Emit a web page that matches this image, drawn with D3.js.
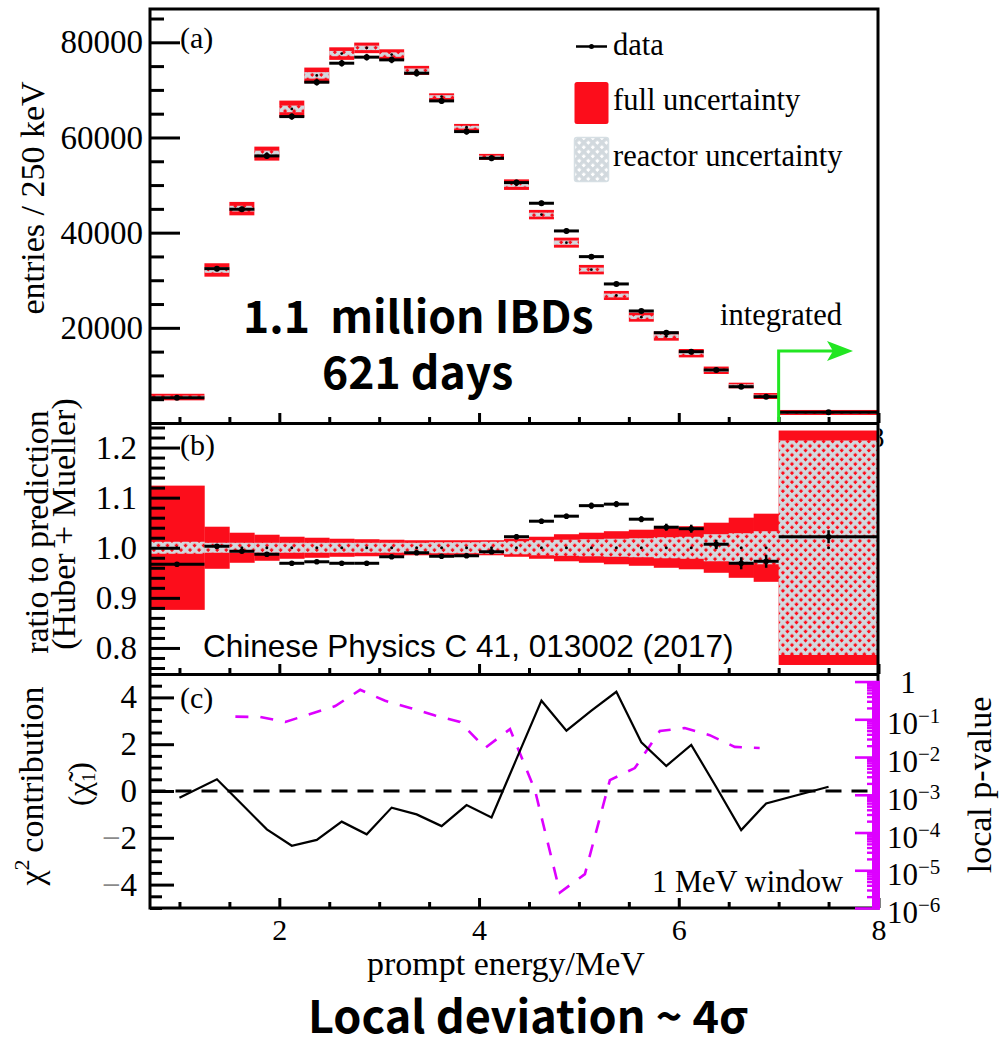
<!DOCTYPE html>
<html><head><meta charset="utf-8">
<script src="https://cdn.jsdelivr.net/npm/d3@7"></script>
<style>
html,body{margin:0;padding:0;background:#fff;}
svg{display:block;}
</style></head><body>
<svg id="chart" width="999" height="1046"></svg>
<script>
// ---------------- data ----------------
const binEdges = [0.7, 1.25, 1.5, 1.75, 2.0, 2.25, 2.5, 2.75, 3.0, 3.25, 3.5, 3.75, 4.0, 4.25, 4.5, 4.75, 5.0, 5.25, 5.5, 5.75, 6.0, 6.25, 6.5, 6.75, 7.0, 8.0];
const dataEntries = [5320, 32440, 44920, 56130, 64390, 71620, 75610, 76880, 76310, 73510, 67690, 61240, 55640, 50520, 46180, 40360, 34960, 29220, 23540, 18980, 14990, 11140, 7630, 5530, 2250];
const dataEntriesErr = [250, 500, 550, 600, 650, 700, 700, 700, 700, 700, 650, 650, 600, 600, 550, 550, 500, 450, 400, 400, 350, 300, 300, 250, 150];
const predEntries = [5450, 32160, 45050, 56610, 66010, 73050, 77630, 78830, 77420, 74100, 68590, 62160, 55920, 50090, 43790, 37900, 32230, 26800, 22240, 18250, 14670, 11080, 7880, 5670, 2210];
const fullErrEntries = [690, 1410, 1410, 1470, 1740, 1640, 1320, 1110, 1110, 950, 690, 690, 630, 1110, 990, 1050, 990, 950, 950, 950, 880, 780, 590, 630, 530];
const reactorErrEntries = [300, 600, 600, 620, 700, 680, 560, 470, 470, 400, 300, 300, 270, 470, 420, 450, 420, 400, 400, 400, 370, 330, 250, 270, 230];

const ratio = [0.967, 1.003, 0.993, 0.987, 0.969, 0.972, 0.969, 0.969, 0.982, 0.990, 0.983, 0.984, 0.992, 1.022, 1.053, 1.063, 1.084, 1.087, 1.057, 1.041, 1.038, 1.007, 0.969, 0.973, 1.022];
const ratioErr = [0.004, 0.004, 0.004, 0.004, 0.004, 0.004, 0.004, 0.004, 0.004, 0.004, 0.004, 0.004, 0.004, 0.005, 0.005, 0.005, 0.006, 0.006, 0.006, 0.007, 0.008, 0.009, 0.012, 0.013, 0.013];
const fullBand = [0.124, 0.042, 0.030, 0.026, 0.022, 0.020, 0.018, 0.017, 0.016, 0.015, 0.015, 0.015, 0.015, 0.018, 0.022, 0.027, 0.030, 0.033, 0.036, 0.040, 0.043, 0.050, 0.060, 0.068, 0.234];
const reactorBand = [0.012, 0.010, 0.010, 0.010, 0.010, 0.010, 0.010, 0.010, 0.010, 0.010, 0.011, 0.011, 0.012, 0.013, 0.015, 0.016, 0.017, 0.018, 0.019, 0.021, 0.022, 0.027, 0.029, 0.033, 0.214];

const chiEnergy = [1.0, 1.375, 1.625, 1.875, 2.125, 2.375, 2.625, 2.875, 3.125, 3.375, 3.625, 3.875, 4.125, 4.375, 4.625, 4.875, 5.125, 5.375, 5.625, 5.875, 6.125, 6.375, 6.625, 6.875, 7.5];
const chiValue = [-0.29, 0.5, -0.57, -1.64, -2.34, -2.09, -1.31, -1.85, -0.71, -1.0, -1.5, -0.6, -1.13, 1.37, 3.86, 2.58, 3.43, 4.24, 2.08, 1.07, 1.97, 0.17, -1.67, -0.53, 0.18];

const pEnergy = [1.56, 1.81, 2.06, 2.31, 2.56, 2.81, 3.06, 3.31, 3.56, 3.81, 4.06, 4.31, 4.56, 4.81, 5.06, 5.31, 5.56, 5.81, 6.06, 6.31, 6.56, 6.81];
const pValue = [0.1175, 0.115, 0.0851, 0.138, 0.224, 0.603, 0.309, 0.2, 0.126, 0.085, 0.0174, 0.055, 0.00132, 2.57e-6, 7.9e-6, 0.00245, 0.0051, 0.049, 0.0589, 0.038, 0.0186, 0.0174];

const yTicksA = [20000, 40000, 60000, 80000];
const yTicksB = [0.8, 0.9, 1.0, 1.1, 1.2];
const yTicksC = [-4, -2, 0, 2, 4];
const xTicksMajor = [2, 4, 6, 8];
const pTicksMajor = [1, 1e-1, 1e-2, 1e-3, 1e-4, 1e-5, 1e-6];
const legendLabels = ["data", "full uncertainty", "reactor uncertainty"];

// ---------------- setup ----------------
const SERIF = '"Liberation Serif","Times New Roman",serif';
const SANS = '"Liberation Sans",Arial,sans-serif';
const BOLD = '"Noto Sans CJK SC","Noto Sans",sans-serif';
const RED = "#fc0d1b", HATCH = "#d2d9de", GREEN = "#22e622", MAG = "#dd00ff";

const svg = d3.select("#chart");
const defs = svg.append("defs");
const pat = defs.append("pattern").attr("id", "hatch").attr("patternUnits", "userSpaceOnUse")
  .attr("width", 6.4).attr("height", 6.4).attr("patternTransform", "rotate(45)");
pat.append("rect").attr("width", 6.4).attr("height", 3.4).attr("fill", HATCH);
pat.append("rect").attr("width", 3.4).attr("height", 6.4).attr("fill", HATCH);
defs.append("clipPath").attr("id", "rclip").append("rect").attr("x", 879.5).attr("y", 420).attr("width", 30).attr("height", 40);

const x = d3.scaleLinear().domain([0.7, 8]).range([149.5, 878.5]);
const yA = d3.scaleLinear().domain([0, 87000]).range([423, 9]);
const yB = d3.scaleLinear().domain([0.748, 1.247]).range([674, 424]);
const yC = d3.scaleLinear().domain([-5, 5]).range([908, 674]);
const yP = d3.scaleLog().domain([1e-6, 1.585]).range([908, 674]);

const bins = d3.range(binEdges.length - 1).map(i => ({
  i, lo: binEdges[i], hi: binEdges[i + 1], mid: (binEdges[i] + binEdges[i + 1]) / 2,
  d: dataEntries[i], de: dataEntriesErr[i], p: predEntries[i], pf: fullErrEntries[i], pr: reactorErrEntries[i],
  r: ratio[i], re: ratioErr[i], bf: fullBand[i], br: reactorBand[i]
}));

// ---------------- panel (a) ----------------
const gA = svg.append("g");
gA.selectAll("rect.fa").data(bins).join("rect")
  .attr("x", d => x(d.lo)).attr("width", d => x(d.hi) - x(d.lo))
  .attr("y", d => yA(d.p + d.pf)).attr("height", d => yA(d.p - d.pf) - yA(d.p + d.pf))
  .attr("fill", RED);
gA.selectAll("rect.ra").data(bins).join("rect")
  .attr("x", d => x(d.lo)).attr("width", d => x(d.hi) - x(d.lo))
  .attr("y", d => yA(d.p + d.pr)).attr("height", d => yA(d.p - d.pr) - yA(d.p + d.pr))
  .attr("fill", "url(#hatch)");
gA.selectAll("circle.pa").data(bins).join("circle")
  .attr("cx", d => x(d.mid)).attr("cy", d => yA(d.p)).attr("r", 1.4).attr("fill", "#000");
gA.selectAll("line.h").data(bins).join("line")
  .attr("x1", d => x(d.lo)).attr("x2", d => x(d.hi)).attr("y1", d => yA(d.d)).attr("y2", d => yA(d.d))
  .attr("stroke", "#000").attr("stroke-width", 3);
gA.selectAll("line.v").data(bins).join("line")
  .attr("x1", d => x(d.mid)).attr("x2", d => x(d.mid)).attr("y1", d => yA(d.d + d.de)).attr("y2", d => yA(d.d - d.de))
  .attr("stroke", "#000").attr("stroke-width", 2);
gA.selectAll("circle.da").data(bins).join("circle")
  .attr("cx", d => x(d.mid)).attr("cy", d => yA(d.d)).attr("r", 3).attr("fill", "#000");

// ---------------- panel (b) ----------------
const gB = svg.append("g");
gB.selectAll("rect.fb").data(bins).join("rect")
  .attr("x", d => x(d.lo)).attr("width", d => x(d.hi) - x(d.lo) + 0.3)
  .attr("y", d => yB(1 + d.bf)).attr("height", d => yB(1 - d.bf) - yB(1 + d.bf))
  .attr("fill", RED);
gB.selectAll("rect.rb").data(bins).join("rect")
  .attr("x", d => x(d.lo)).attr("width", d => x(d.hi) - x(d.lo) + 0.3)
  .attr("y", d => yB(1 + d.br)).attr("height", d => yB(1 - d.br) - yB(1 + d.br))
  .attr("fill", "url(#hatch)");
gB.selectAll("circle.pb").data(bins).join("circle")
  .attr("cx", d => x(d.mid)).attr("cy", yB(1)).attr("r", 1.5).attr("fill", "#000");
gB.selectAll("line.h").data(bins).join("line")
  .attr("x1", d => x(d.lo)).attr("x2", d => x(d.hi)).attr("y1", d => yB(d.r)).attr("y2", d => yB(d.r))
  .attr("stroke", "#000").attr("stroke-width", 3);
gB.selectAll("line.v").data(bins).join("line")
  .attr("x1", d => x(d.mid)).attr("x2", d => x(d.mid)).attr("y1", d => yB(d.r + d.re)).attr("y2", d => yB(d.r - d.re))
  .attr("stroke", "#000").attr("stroke-width", 2.5);
gB.selectAll("circle.db").data(bins).join("circle")
  .attr("cx", d => x(d.mid)).attr("cy", d => yB(d.r)).attr("r", 2.8).attr("fill", "#000");

// ---------------- panel (c) ----------------
const gC = svg.append("g");
gC.append("line").attr("x1", x(0.7)).attr("x2", 872).attr("y1", yC(0)).attr("y2", yC(0))
  .attr("stroke", "#000").attr("stroke-width", 3).attr("stroke-dasharray", "16,10");
gC.append("path").datum(pEnergy.map((e, i) => [e, pValue[i]]))
  .attr("d", d3.line().x(d => x(d[0])).y(d => yP(d[1])))
  .attr("fill", "none").attr("stroke", MAG).attr("stroke-width", 2.6).attr("stroke-dasharray", "13,12");
gC.append("path").datum(chiEnergy.map((e, i) => [e, chiValue[i]]))
  .attr("d", d3.line().x(d => x(d[0])).y(d => yC(d[1])))
  .attr("fill", "none").attr("stroke", "#000").attr("stroke-width", 2.2).attr("stroke-linejoin", "miter");

// ---------------- frame ----------------
const fr = svg.append("g").attr("fill", "none").attr("stroke", "#000").attr("stroke-width", 3);
fr.append("rect").attr("x", 150).attr("y", 9).attr("width", 728).attr("height", 899);
fr.append("line").attr("x1", 150).attr("x2", 878).attr("y1", 423.5).attr("y2", 423.5);
fr.append("line").attr("x1", 150).attr("x2", 878).attr("y1", 674.5).attr("y2", 674.5);

// ---------------- axes ----------------
function styleAxis(g, size) {
  g.select(".domain").remove();
  g.selectAll("line").attr("stroke", "#000").attr("stroke-width", 3);
  g.selectAll("text").attr("font-family", SERIF).attr("font-size", size).attr("fill", "#000");
}
function leftAxis(scale, major, minorStep, majLen, minLen, pad, fmt) {
  const [a, b] = scale.domain();
  const minor = d3.range(Math.ceil(a / minorStep) * minorStep, b + 1e-9, minorStep)
    .filter(v => !major.some(m => Math.abs(m - v) < minorStep / 10));
  const g1 = svg.append("g").attr("transform", "translate(150,0)")
    .call(d3.axisLeft(scale).tickValues(minor).tickSizeInner(-minLen).tickSizeOuter(0).tickFormat(""));
  styleAxis(g1, 33);
  const g2 = svg.append("g").attr("transform", "translate(150,0)")
    .call(d3.axisLeft(scale).tickValues(major).tickSizeInner(-majLen).tickSizeOuter(0).tickPadding(pad).tickFormat(fmt));
  styleAxis(g2, 33);
  return g2;
}
leftAxis(yA, yTicksA, 5000, 30, 14, 7, d3.format("d"));
leftAxis(yB, yTicksB, 0.02, 30, 15, 13, d3.format(".1f"));
const gcy = leftAxis(yC, yTicksC, 0.5, 24, 12, 13, d => String(Math.abs(d)));
gcy.selectAll(".tick text").each(function (d) {
  if (d < 0) {
    const t = d3.select(this); const s = t.text(); t.text("");
    t.append("tspan").attr("fill", "#8a8a8a").text("\u2212");
    t.append("tspan").text(s);
  }
});

const xMinor = d3.range(1, 8, 0.5).filter(v => !xTicksMajor.includes(v));
[423, 674, 908].forEach((yy, k) => {
  const g1 = svg.append("g").attr("transform", `translate(0,${yy})`)
    .call(d3.axisBottom(x).tickValues(xMinor).tickSizeInner(-6).tickSizeOuter(0).tickFormat(""));
  styleAxis(g1, 30);
  const g2 = svg.append("g").attr("transform", `translate(0,${yy})`)
    .call(d3.axisBottom(x).tickValues(xTicksMajor).tickSizeInner(-10).tickSizeOuter(0).tickPadding(10.5)
      .tickFormat(k === 2 ? d3.format("d") : ""));
  styleAxis(g2, 30);
});

// right log axis (p-value)
svg.append("rect").attr("x", 872).attr("y", yP(1)).attr("width", 8).attr("height", yP(1e-6) - yP(1)).attr("fill", MAG);
const pMinor = yP.ticks().filter(v => !pTicksMajor.some(m => Math.abs(Math.log10(m) - Math.log10(v)) < 1e-6));
const gp1 = svg.append("g").attr("transform", "translate(880,0)")
  .call(d3.axisRight(yP).tickValues(pMinor).tickSizeInner(-13).tickSizeOuter(0).tickFormat(""));
gp1.select(".domain").remove();
gp1.selectAll("line").attr("stroke", MAG).attr("stroke-width", 2.4);
const gp2 = svg.append("g").attr("transform", "translate(880,0)")
  .call(d3.axisRight(yP).tickValues(pTicksMajor).tickSizeInner(-25).tickSizeOuter(0).tickFormat(""));
gp2.select(".domain").remove();
gp2.selectAll("line").attr("stroke", MAG).attr("stroke-width", 2.6);
const pl = svg.append("g").attr("font-family", SERIF).attr("fill", "#000");
pTicksMajor.forEach(v => {
  const e = Math.round(Math.log10(v));
  if (e === 0) {
    pl.append("text").attr("x", 908).attr("y", yP(v) + 11).attr("text-anchor", "middle").attr("font-size", 31).text("1");
  } else {
    const t = pl.append("text").attr("x", 887).attr("y", yP(v) + 15).attr("font-size", 31);
    t.append("tspan").text("10");
    t.append("tspan").attr("font-size", 21).attr("dy", -11).text("\u2212" + (-e));
  }
});

// ---------------- texts ----------------
const T = (xx, yy, txt, size, fam, extra) => {
  const t = svg.append("text").attr("x", xx).attr("y", yy).attr("font-size", size).attr("font-family", fam).attr("fill", "#000").text(txt);
  if (extra) extra(t);
  return t;
};
T(180, 48, "(a)", 30, SERIF);
T(180, 455, "(b)", 30, SERIF);
T(180, 708, "(c)", 30, SERIF);
T(720, 325, "integrated", 30.5, SERIF);
T(652, 892, "1 MeV window", 30.5, SERIF);
T(203, 657, "Chinese Physics C 41, 013002 (2017)", 31.5, SANS);
T(367, 975, "prompt energy/MeV", 34, SERIF);
// two-line bold annotation as one text block
const ibd = svg.append("text").attr("font-size", 44.5).attr("font-family", BOLD).attr("font-weight", 700)
  .attr("fill", "#000").style("white-space", "pre");
ibd.append("tspan").attr("x", 243).attr("y", 333).text("1.1  million IBDs");
ibd.append("tspan").attr("x", 322).attr("y", 389).text("621 days");
T(308, 1033, "Local deviation ~ 4\u03c3", 45, BOLD, t => t.attr("font-weight", 700));
T(877, 447, "8", 30, SERIF, t => t.attr("text-anchor", "middle").attr("clip-path", "url(#rclip)"));

const R = (xx, yy, size) => svg.append("text").attr("transform", `translate(${xx},${yy}) rotate(-90)`)
  .attr("text-anchor", "middle").attr("font-family", SERIF).attr("font-size", size).attr("fill", "#000");
R(44, 198, 34).text("entries / 250 keV");
R(48, 532, 34).text("ratio to prediction");
R(75, 524, 34).text("(Huber + Mueller)");
const chiT = R(43, 786, 34);
chiT.append("tspan").text("\u03c7");
chiT.append("tspan").attr("font-size", 22).attr("dy", -14).text("2");
chiT.append("tspan").attr("dy", 14).text("\u2009contribution");
const chiT2 = R(90, 784, 31);
chiT2.append("tspan").text("(\u03c7\u0303");
chiT2.append("tspan").attr("font-size", 19).attr("dy", 5).text("1");
chiT2.append("tspan").attr("dy", -5).text(")");
R(991, 785, 34).text("local p-value");

// ---------------- legend ----------------
const lg = svg.append("g");
lg.append("line").attr("x1", 576).attr("x2", 607).attr("y1", 46.5).attr("y2", 46.5).attr("stroke", "#000").attr("stroke-width", 2.5);
lg.append("circle").attr("cx", 591.5).attr("cy", 46.5).attr("r", 2.5).attr("fill", "#000");
lg.append("rect").attr("x", 574.5).attr("y", 82).attr("width", 34).attr("height", 42).attr("rx", 2.5).attr("fill", RED);
lg.append("rect").attr("x", 574.5).attr("y", 137.5).attr("width", 34).attr("height", 44).attr("rx", 2.5)
  .attr("fill", "url(#hatch)").attr("stroke", "#d6dfe4").attr("stroke-width", 1.5);
[55, 110, 166].forEach((yy, i) => T(613, yy, legendLabels[i], 30.5, SERIF));

// ---------------- green "integrated" arrow ----------------
const ax0 = x(binEdges[binEdges.length - 2]);
svg.append("path").attr("d", `M${ax0},422 V351 H836`).attr("fill", "none").attr("stroke", GREEN).attr("stroke-width", 3);
svg.append("path").attr("d", `M853,351 L827,341 L833,351 L827,361 Z`).attr("fill", GREEN);
</script>
</body></html>
